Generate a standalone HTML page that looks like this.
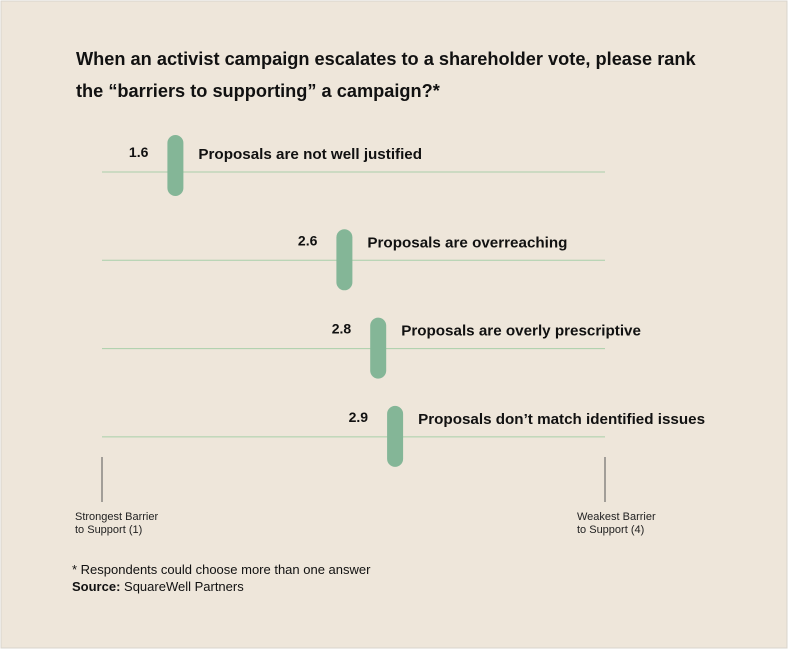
<!DOCTYPE html>
<html><head><meta charset="utf-8"><style>
html,body{margin:0;padding:0;background:#fff}
svg{display:block;font-family:"Liberation Sans",sans-serif}
</style></head><body>
<svg width="790" height="651" viewBox="0 0 790 651">
<rect x="1" y="1" width="786" height="647" fill="#EEE6DA" stroke="#d8d4cc"/>
<text x="76" y="65" font-size="18.2" font-weight="bold" fill="#111">When an activist campaign escalates to a shareholder vote, please rank</text>
<text x="76" y="97" font-size="18.2" font-weight="bold" fill="#111">the “barriers to supporting” a campaign?*</text>
<line x1="102" y1="457" x2="102" y2="502" stroke="#555"/>
<line x1="605" y1="457" x2="605" y2="502" stroke="#555"/>
<text x="75" y="520" font-size="11" fill="#222">Strongest Barrier</text>
<text x="75" y="533" font-size="11" fill="#222">to Support (1)</text>
<text x="577" y="520" font-size="11" fill="#222">Weakest Barrier</text>
<text x="577" y="533" font-size="11" fill="#222">to Support (4)</text>
<text x="72" y="574" font-size="13" fill="#111">* Respondents could choose more than one answer</text>
<text x="72" y="591" font-size="13" fill="#111"><tspan font-weight="bold">Source:</tspan> SquareWell Partners</text>
<g id="marks"></g>
</svg>
<script>
const categories = ["Proposals are not well justified","Proposals are overreaching","Proposals are overly prescriptive","Proposals don’t match identified issues"];
const values = [1.6, 2.6, 2.8, 2.9];
const valueLabels = ["1.6","2.6","2.8","2.9"];
const NS = "http://www.w3.org/2000/svg";
function xScale(v){ return 74 + (v - 1) / 3 * 507; }
function rowY(i){ return 172 + i * 88.3; }
const g = document.getElementById("marks");
function mk(tag, attrs){ const e = document.createElementNS(NS, tag); for (const k in attrs) e.setAttribute(k, attrs[k]); return e; }
categories.forEach((c, i) => {
  const y = rowY(i);
  const line = mk("line", {x1:102, y1:y, x2:605, y2:y, stroke:"#A9CFA9", "stroke-width":1});
  
  
  g.appendChild(line);
  const x = xScale(values[i]);
  const top = i === 0 ? y - 37 : y - 31;
  const bar = mk("rect", {x:x-8, y:top, width:16, height:61, rx:8, fill:"#84B697"});
  
  
  g.appendChild(bar);
  const ty = i === 0 ? top + 24 : top + 18;
  const vt = mk("text", {x:x-27, y:ty - 2, "font-size":14, "font-weight":"bold", fill:"#111", "text-anchor":"end"});
  vt.textContent = valueLabels[i];
  
  
  g.appendChild(vt);
  const ct = mk("text", {x:x+23, y:ty, "font-size":15.2, "font-weight":"bold", fill:"#111"});
  ct.textContent = c;
  
  
  g.appendChild(ct);
});
</script>
</body></html>
